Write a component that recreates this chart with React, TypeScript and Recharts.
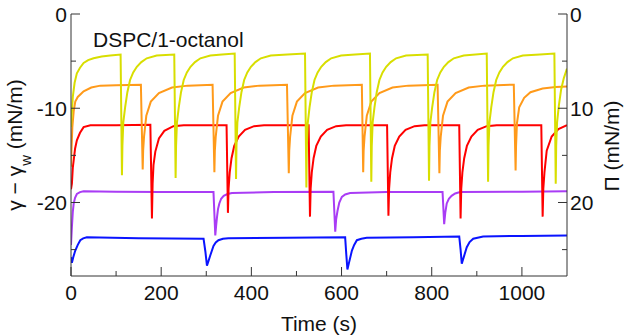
import React from 'react';
import { LineChart, Line, XAxis, YAxis } from 'recharts';

type P = [number, number];

// time (s), gamma - gamma_w (mN/m)
const yellowTrace: P[] = [
  [0, -12.0], [2, -10.4], [4, -8.8], [8, -7.3], [13, -6.3], [20, -5.7], [28, -5.2], [38, -4.9], [50, -4.7], [68, -4.5], [87, -4.4], [110, -4.3],
  [113, -17.1], [114, -14.0], [116, -11.5], [120, -9.9], [125, -8.3], [131, -7.0], [138, -6.2], [146, -5.6], [156, -5.1], [168, -4.7], [190, -4.4], [229, -4.3],
  [232, -17.4], [233, -14.0], [235, -11.5], [239, -9.9], [244, -8.3], [250, -7.0], [257, -6.2], [265, -5.6], [275, -5.1], [287, -4.7], [309, -4.4], [335, -4.3], [363, -4.2],
  [366, -17.5], [367, -14.0], [369, -11.5], [373, -9.9], [378, -8.3], [384, -7.0], [391, -6.2], [399, -5.6], [409, -5.1], [421, -4.7], [443, -4.4], [480, -4.3], [519, -4.2],
  [522, -18.4], [523, -14.2], [525, -11.6], [529, -9.9], [534, -8.3], [540, -7.0], [547, -6.2], [555, -5.6], [565, -5.1], [577, -4.7], [599, -4.4], [630, -4.3], [663, -4.2],
  [666, -17.8], [667, -14.0], [669, -11.5], [673, -9.9], [678, -8.3], [684, -7.0], [691, -6.2], [699, -5.6], [709, -5.1], [721, -4.7], [743, -4.4], [791, -4.3],
  [794, -17.7], [795, -14.0], [797, -11.5], [801, -9.9], [806, -8.3], [812, -7.0], [819, -6.2], [827, -5.6], [837, -5.1], [849, -4.7], [871, -4.4], [922, -4.2],
  [925, -17.8], [926, -14.0], [928, -11.5], [932, -9.9], [937, -8.3], [943, -7.0], [950, -6.2], [958, -5.6], [968, -5.1], [980, -4.7], [1002, -4.4], [1040, -4.3], [1072, -4.2],
  [1075, -18.0], [1076, -14.0], [1078, -11.5], [1082, -9.7], [1087, -8.0], [1093, -6.8], [1100, -5.8],
];

const orangeTrace: P[] = [
  [0, -16.2], [1, -14.5], [3, -12.0], [6, -10.3], [9.5, -9.3], [15, -8.8], [28, -8.2], [45, -7.8], [65, -7.6], [100, -7.55], [155, -7.5],
  [159, -16.5], [160, -14.5], [162, -13.0], [167, -10.8], [177, -9.3], [195, -8.4], [224, -7.8], [259, -7.6], [314, -7.5],
  [318, -16.8], [319, -14.5], [321, -13.0], [326, -10.8], [336, -9.3], [354, -8.4], [383, -7.8], [418, -7.6], [479, -7.5],
  [483, -16.9], [484, -14.5], [486, -13.0], [491, -10.8], [501, -9.3], [519, -8.4], [548, -7.8], [583, -7.6], [645, -7.5],
  [648, -16.8], [649, -14.5], [651, -13.0], [656, -10.8], [666, -9.3], [684, -8.4], [713, -7.8], [748, -7.6], [813, -7.5],
  [817, -16.9], [818, -14.5], [820, -13.0], [825, -10.8], [835, -9.3], [853, -8.4], [882, -7.8], [917, -7.6], [982, -7.5],
  [986, -16.6], [987, -14.0], [989, -11.6], [994, -9.9], [1005, -8.9], [1019, -8.3], [1046, -7.9], [1075, -7.75], [1100, -7.7],
];

const redTrace: P[] = [
  [0, -18.6], [2, -18.0], [4, -16.3], [6, -15.5], [9, -14.3], [13, -13.4], [20, -12.6], [28, -12.0], [43, -11.8], [100, -11.8], [176, -11.75],
  [179.5, -21.7], [181, -18.0], [183, -16.0], [187, -14.6], [195, -13.2], [207, -12.4], [227, -11.9], [250, -11.8], [345, -11.8],
  [348, -21.1], [349.5, -18.5], [352, -16.8], [356, -15.3], [362, -14.0], [372, -13.0], [386, -12.3], [406, -11.9], [428, -11.8], [527, -11.8],
  [530, -21.5], [531.5, -18.5], [534, -16.8], [538, -15.3], [544, -14.0], [554, -13.0], [568, -12.3], [588, -11.9], [610, -11.8], [701, -11.8],
  [704, -21.4], [705.5, -18.5], [708, -16.8], [712, -15.3], [718, -14.0], [728, -13.0], [742, -12.3], [762, -11.9], [784, -11.8], [861, -11.8],
  [864, -21.7], [865.5, -18.5], [868, -16.8], [872, -15.3], [878, -14.0], [888, -13.0], [902, -12.3], [922, -11.9], [944, -11.8], [1043, -11.8],
  [1046, -21.5], [1047.5, -18.5], [1050, -16.8], [1055, -14.5], [1066, -13.0], [1081, -12.2], [1100, -11.8],
];

const purpleTrace: P[] = [
  [0, -24.5], [2, -22.6], [4, -21.0], [6, -20.1], [9, -19.5], [13, -19.1], [20, -18.9], [28, -18.8], [100, -18.85], [200, -18.9], [316, -18.9],
  [320, -23.5], [322, -22.4], [323.7, -21.6], [326, -20.7], [329, -20.1], [333, -19.6], [338.6, -19.3], [347, -19.1], [357, -19.0], [450, -18.9], [582, -18.85],
  [586, -23.1], [588, -21.8], [591, -20.9], [595, -20.0], [600.7, -19.4], [608, -19.15], [619, -19.0], [700, -18.9], [824, -18.9],
  [827.6, -22.3], [830, -21.1], [833.3, -20.1], [838, -19.6], [844, -19.3], [852, -19.05], [863, -18.9], [1000, -18.85], [1100, -18.8],
];

const blueTrace: P[] = [
  [0, -25.8], [2, -26.4], [5, -25.8], [9.5, -25.1], [15, -24.5], [20.6, -24.0], [27, -23.8], [35, -23.7], [150, -23.8], [294, -23.85],
  [298, -25.2], [301.5, -26.7], [305, -26.2], [309, -25.6], [316, -24.6], [321, -24.25], [327, -24.0], [337, -23.85], [349, -23.8], [480, -23.75], [608, -23.7],
  [610.5, -25.5], [613, -27.1], [617, -26.3], [623, -25.1], [628, -24.5], [634, -24.0], [644, -23.85], [656, -23.75], [760, -23.7], [861, -23.6],
  [864, -25.0], [866.6, -26.5], [871, -25.8], [877.7, -24.75], [884, -24.2], [892, -23.85], [914, -23.6], [1000, -23.55], [1100, -23.5],
];

const xTicks = [0, 100, 200, 300, 400, 500, 600, 700, 800, 900, 1000];
const yTicksLeft = [-25, -20, -15, -10, -5, 0];
const yTicksRight = [0, 5, 10, 15, 20, 25];

const seriesList = [
  { name: 'blue', color: '#0a14ff', pts: blueTrace },
  { name: 'purple', color: '#a93cf5', pts: purpleTrace },
  { name: 'red', color: '#ff0000', pts: redTrace },
  { name: 'orange', color: '#ff9a1a', pts: orangeTrace },
  { name: 'yellow', color: '#d8de00', pts: yellowTrace },
];

const toRows = (pts: P[]) => pts.map(([t, v]) => ({ t, v }));

const FONT = '"Liberation Sans", Arial, Helvetica, sans-serif';
const FS = 21;
const AX = '#333';

const BottomTick = (props: any) => {
  const { x, y, payload } = props;
  const major = payload.value % 200 === 0;
  return (
    <g>
      <line x1={x} x2={x} y1={y} y2={y - (major ? 9 : 5)} stroke={AX} strokeWidth={1} />
      {major && (
        <text x={x} y={y + 9} dy="0.71em" textAnchor="middle" fontSize={FS} fontFamily={FONT} fill="#111">
          {payload.value}
        </text>
      )}
    </g>
  );
};

const TopTick = (props: any) => {
  const { x, y, payload } = props;
  const major = payload.value % 200 === 0;
  return <line x1={x} x2={x} y1={y} y2={y + (major ? 9 : 5)} stroke={AX} strokeWidth={1} />;
};

const LeftTick = (props: any) => {
  const { x, y, payload } = props;
  const major = payload.value % 10 === 0;
  return (
    <g>
      <line x1={x} x2={x + (major ? 9 : 5)} y1={y} y2={y} stroke={AX} strokeWidth={1} />
      {major && (
        <text x={x - 4} y={y} dy="0.36em" textAnchor="end" fontSize={FS} fontFamily={FONT} fill="#111">
          {payload.value}
        </text>
      )}
    </g>
  );
};

const RightTick = (props: any) => {
  const { x, y, payload } = props;
  const major = payload.value % 10 === 0;
  return (
    <g>
      <line x1={x} x2={x - (major ? 9 : 5)} y1={y} y2={y} stroke={AX} strokeWidth={1} />
      {major && (
        <text x={x + 3} y={y} dy="0.36em" textAnchor="start" fontSize={FS} fontFamily={FONT} fill="#111">
          {payload.value}
        </text>
      )}
    </g>
  );
};

export default function App() {
  return (
    <div style={{ position: 'absolute', left: 0, top: 0, width: 629, height: 335, background: '#fff' }}>
      <LineChart width={629} height={335} margin={{ top: 14, right: 0, bottom: 0, left: 0 }}>
        <XAxis
          xAxisId="b"
          dataKey="t"
          type="number"
          domain={[0, 1100]}
          ticks={xTicks}
          interval={0}
          height={59}
          tickSize={0}
          tickMargin={0}
          tickLine={false}
          tick={<BottomTick />}
          axisLine={{ stroke: AX }}
          allowDataOverflow
        />
        <XAxis
          xAxisId="top"
          orientation="top"
          dataKey="t"
          type="number"
          domain={[0, 1100]}
          ticks={xTicks}
          interval={0}
          height={0}
          tickSize={0}
          tickMargin={0}
          tickLine={false}
          tick={<TopTick />}
          axisLine={{ stroke: AX }}
          allowDataOverflow
        />
        <YAxis
          yAxisId="l"
          type="number"
          domain={[-27.8, 0]}
          ticks={yTicksLeft}
          interval={0}
          width={71}
          tickSize={0}
          tickMargin={0}
          tickLine={false}
          tick={<LeftTick />}
          axisLine={{ stroke: AX }}
          allowDataOverflow
        />
        <YAxis
          yAxisId="r"
          orientation="right"
          type="number"
          domain={[0, 27.8]}
          reversed
          ticks={yTicksRight}
          interval={0}
          width={62}
          tickSize={0}
          tickMargin={0}
          tickLine={false}
          tick={<RightTick />}
          axisLine={{ stroke: AX }}
          allowDataOverflow
        />
        {seriesList.map((s) => (
          <Line
            key={s.name}
            xAxisId="b"
            yAxisId="l"
            data={toRows(s.pts)}
            dataKey="v"
            type="linear"
            stroke={s.color}
            strokeWidth={2}
            dot={false}
            activeDot={false}
            isAnimationActive={false}
          />
        ))}
        <text x={93} y={47} fontSize={FS} fontFamily={FONT} fill="#111">DSPC/1-octanol</text>
        <text x={319} y={331} textAnchor="middle" fontSize={FS} fontFamily={FONT} fill="#111">Time (s)</text>
        <text transform="rotate(-90 22 145)" x={22} y={145} textAnchor="middle" fontSize={FS} fontFamily={FONT} fill="#111">
          <tspan>γ − γ</tspan>
          <tspan fontSize={15} baselineShift="sub">w</tspan>
          <tspan> (mN/m)</tspan>
        </text>
        <text transform="rotate(-90 619 146)" x={619} y={146} textAnchor="middle" fontSize={FS} fontFamily={FONT} fill="#111">
          Π (mN/m)
        </text>
      </LineChart>
    </div>
  );
}
